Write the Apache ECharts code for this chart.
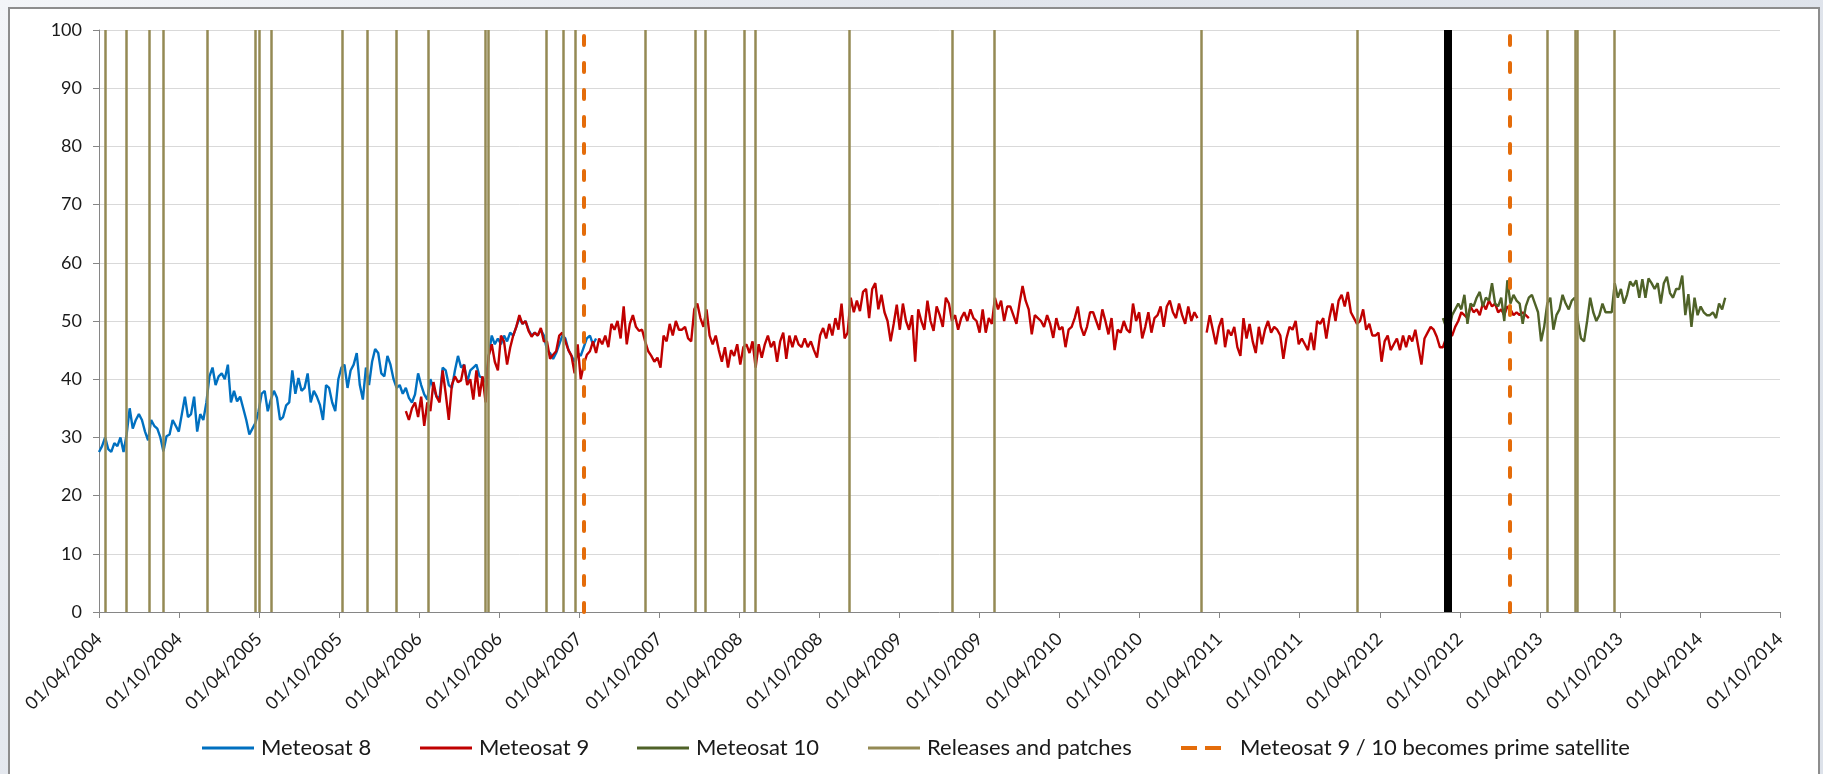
<!DOCTYPE html>
<html>
<head>
<meta charset="utf-8">
<title>Meteosat 8 / 9 / 10</title>
<script src="https://cdn.jsdelivr.net/npm/echarts@6.0.0/dist/echarts.min.js"></script>
<style>
  html, body { margin: 0; padding: 0; width: 1823px; height: 774px; overflow: hidden; }
  body { background: linear-gradient(135deg, #f3f5f8 0%, #e2e6ed 35%, #dde2ea 100%); }
  #frame { position: absolute; left: 8px; top: 7px; width: 1808px; height: 820px; background: #fff; border: 2px solid #8d8d8d; }
  #chart { position: absolute; left: 0; top: 0; width: 1823px; height: 774px; }
</style>
</head>
<body>
<div id="frame"></div>
<div id="chart"></div>
<script>
// axis ticks, every 6 months
const tickDates = ['2004-04-01', '2004-10-01', '2005-04-01', '2005-10-01', '2006-04-01', '2006-10-01',
  '2007-04-01', '2007-10-01', '2008-04-01', '2008-10-01', '2009-04-01', '2009-10-01', '2010-04-01',
  '2010-10-01', '2011-04-01', '2011-10-01', '2012-04-01', '2012-10-01', '2013-04-01', '2013-10-01',
  '2014-04-01', '2014-10-01']

// releases and patches (vertical lines)
const releaseDates = ['2004-04-16', '2004-06-03', '2004-07-24', '2004-08-26', '2004-12-03', '2005-03-23',
  '2005-04-01', '2005-04-30', '2005-10-07', '2005-12-03', '2006-02-08', '2006-04-22', '2006-08-30',
  '2006-09-05', '2007-01-17', '2007-02-25', '2007-03-24', '2007-08-30', '2007-12-23', '2008-01-13',
  '2008-04-11', '2008-05-08', '2008-12-07', '2009-07-31', '2009-11-03', '2011-02-18', '2012-02-09',
  '2013-04-17', '2013-06-20', '2013-06-26', '2013-09-17']
const primeDates = ['2007-04-13', '2013-01-22']
const blackBarDate = '2012-09-04'

// weekly samples
const stepDays = 7
const m8Start = '2004-04-01'
const m8Values = [
  27.5, 28.5, 30, 28, 27.5, 29, 28.5, 30, 27.5, 30.5,
  35, 31.5, 33, 34, 33, 31, 29.5, 33, 32, 31.5,
  30, 27.6, 30.2, 30.5, 33, 32, 31, 34, 37, 33.5,
  34, 37, 31, 34, 33, 36, 40.5, 42, 39, 40.5,
  41, 40, 42.5, 36, 38, 36.2, 37, 35, 33, 30.5,
  31.5, 32.5, 34.5, 37.5, 38, 34.5, 36.5, 38, 36.8, 33,
  33.5, 35.5, 36, 41.5, 37.5, 40.2, 38, 38.5, 41, 36,
  38, 37, 35.6, 33, 39, 38.5, 36, 34.5, 40, 42,
  42.5, 38.5, 41.5, 42.5, 44.5, 39, 36.5, 42, 39, 43,
  45.2, 44.5, 41, 40.5, 44, 42.5, 40, 38.5, 39, 37.5,
  38.5, 36.8, 36, 37.4, 41, 39, 37.4, 36.5, 40, 38.5,
  37, 36.8, 42, 41.5, 39, 38.5, 41.5, 44, 42, 42.5,
  39.5, 41.5, 42, 42.5, 40.5, 40.2, 39.5, 44, 47.5, 46,
  47, 46, 47.5, 46.5, 48, 47.5, 49, 50.5, 49.5, 50,
  48.5, 47.5, 48, 47.5, 48.5, 47.5, 45, 44.5, 43.5, 44.5,
  46, 47.5, 47, 45, 44, 43, 44.5, 44, 45.5, 47,
  47.5, 46, 47
]
const m9Start = '2006-03-02'
const m9Values = [
  34.5, 33, 35, 36, 33.5, 37, 32, 36, 34.5, 39.5,
  37, 36, 41.5, 37.5, 33, 39, 40.5, 39.5, 39.8, 42.5,
  39, 40, 36.5, 41.5, 37, 40.5, 36, 44, 46, 43,
  41.5, 47.5, 46.5, 42.5, 45.4, 47.5, 49, 51, 49.5, 50,
  48.3, 47.3, 48, 47.5, 48.8, 46.5, 46.5, 43.5, 44.2, 44.8,
  47.5, 48, 46.5, 45, 44, 41, 46, 40, 42.5, 44.2,
  44.8, 46.5, 44.5, 47, 46, 47.5, 45.5, 49.5, 48.5, 50,
  47, 52.5, 46, 49.5, 51, 49, 48.3, 48.5, 46.5, 44.8,
  44, 43, 43.7, 42, 47.5, 46.5, 49.5, 47.5, 50, 48.5,
  48.5, 49, 47, 46.5, 52, 53, 50.5, 49, 52, 47.5,
  46, 47.5, 45, 43, 45.5, 42, 45, 44, 46, 42.5,
  45.5, 46, 44.5, 46.5, 42, 46, 43.7, 46, 47.5, 45.5,
  46.5, 43, 46.5, 48, 43.5, 47.5, 45.5, 47.5, 46, 45.5,
  47, 45.5, 46.5, 45, 43.7, 47.5, 48.8, 47, 49.5, 47.5,
  50.5, 48.5, 53, 47, 48, 54, 51.5, 53.5, 51.7, 55,
  55.5, 50.5, 55.5, 56.5, 52, 54.5, 51.5, 50, 46.5, 49.5,
  52.8, 48.5, 53, 50, 48.5, 51, 43, 52, 50, 48.5,
  53.5, 50, 48.3, 52.5, 51, 49, 54, 53, 50, 51,
  48.5, 50.5, 51.5, 50, 52, 50.5, 50, 48, 52, 48,
  50.5, 49.5, 54, 52, 53.5, 50, 52.5, 52.5, 51, 49.5,
  53, 56, 53.5, 52, 47.7, 51, 50.5, 50, 49, 51,
  49.5, 47.1, 50.5, 48.5, 49, 45.5, 48.5, 49, 50.5, 52.5,
  49, 47.5, 49, 51.5, 51.5, 50, 48.5, 52, 50, 47.7,
  50.5, 45, 48.5, 48, 50, 48.5, 48, 53, 50, 51.5,
  47, 49, 51.5, 48, 50.5, 51, 52.5, 49, 52.5, 53.5,
  51.5, 50.5, 53, 51, 49.5, 52.5, 50, 51.5, 50.5, null,
  null, 48, 51, 48.5, 46, 49, 50.5, 45.5, 48.5, 47.5,
  49, 45.5, 44, 50.5, 47, 49.5, 46.5, 44.5, 49, 46,
  48.5, 50, 48, 49, 48.5, 47.5, 43.5, 47, 49, 48.5,
  50, 46, 47, 46, 45, 48, 45, 50, 49.5, 50.5,
  47, 50.5, 53, 50, 53.5, 54.5, 52.5, 55, 51.5, 50.5,
  49.5, 50, 52, 48.5, 49.5, 47.5, 47.5, 48, 43, 46.5,
  47.5, 45, 46, 47, 45, 47.5, 45.5, 47.5, 46.5, 48.5,
  45.5, 42.5, 47, 48, 49, 48.5, 47.3, 45.5, 45.5, 47,
  47.5, 47.5, 49, 50, 51.5, 51, 50.5, 52.5, 51.5, 52,
  51, 53, 52, 53.5, 52.5, 53, 51.5, 52, 51, 52.5,
  52, 51, 51.5, 51, 51.5, 51, 50.5
]
const m10Start = '2012-08-23'
const m10Values = [
  50.5, 49,
  48.3, 51, 52, 53, 52, 54.5, 49.5, 53, 52.5, 54,
  55, 52.5, 54, 53.5, 56.5, 53, 52.5, 54, 50, 57,
  53, 54.5, 53.5, 53, 49.5, 52.5, 54, 54.5, 53, 51.5,
  46.5, 49, 53, 54, 48.5, 51, 52, 54.5, 53, 52,
  53.5, 54, 50, 47, 46.5, 50, 54, 51.5, 50, 51,
  53, 51.5, 51.5, 51.5, 56.5, 54, 55.5, 53, 54.5, 56.8,
  56, 57, 54, 57.2, 54, 57.3, 56.5, 55.5, 56.5, 53,
  56.5, 57.6, 54.8, 54, 55.5, 55.5, 57.8, 51, 54.6, 49,
  54, 51, 52.5, 51.5, 51, 51, 51.5, 50.5, 53, 52,
  54
]

const font = 'Lato'
const textColor = '#1a1a1a'
const axisColor = '#868686'
// legend icons: a plain stroke, and two dashes
const solidIcon = 'path://M0,0H52V3H0Z'
const dashIcon = 'path://M0,0H16V4H0ZM24,0H40V4H24Z'

function toTime (s) {
  const p = s.split('-').map(Number)
  return new Date(p[0], p[1] - 1, p[2]).getTime()
}
function weekly (start, values) {
  const p = start.split('-').map(Number)
  return values.map((v, i) => [new Date(p[0], p[1] - 1, p[2] + i * stepDays).getTime(), v])
}
function pad (n) { return n < 10 ? '0' + n : '' + n }
function fmtDate (v) {
  const d = new Date(Math.round(v))
  return pad(d.getDate()) + '/' + pad(d.getMonth() + 1) + '/' + d.getFullYear()
}
// one legend box per entry so each sits where it is in the picture
function legendAt (left, name, icon, width, textPad) {
  return {
    left: left,
    top: 737,
    padding: 0,
    itemWidth: width,
    itemHeight: 14,
    symbolKeepAspect: true,
    icon: icon,
    textStyle: { fontFamily: font, fontSize: 22, color: textColor, padding: [0, 0, 0, textPad] },
    data: [name]
  }
}

const ticks = tickDates.map(toTime)

const chart = echarts.init(document.getElementById('chart'))
const option = {
  animation: false,
  backgroundColor: 'transparent',
  grid: { left: 99, right: 43, top: 30, bottom: 162, outerBoundsMode: 'none' },
  legend: [
    legendAt(202, 'Meteosat 8', solidIcon, 52, 2),
    legendAt(420, 'Meteosat 9', solidIcon, 52, 2),
    legendAt(637, 'Meteosat 10', solidIcon, 52, 2),
    legendAt(868, 'Releases and patches', solidIcon, 52, 2),
    legendAt(1181, 'Meteosat 9 / 10 becomes prime satellite', dashIcon, 40, 14)
  ],
  xAxis: {
    type: 'value',
    min: ticks[0],
    max: ticks[ticks.length - 1],
    axisLine: { lineStyle: { color: axisColor, width: 1 } },
    axisTick: { show: true, length: 6, lineStyle: { color: axisColor }, customValues: ticks },
    axisLabel: {
      customValues: ticks,
      rotate: 45,
      margin: 24,
      formatter: fmtDate,
      fontFamily: font,
      fontSize: 18,
      color: textColor,
      hideOverlap: false
    },
    splitLine: { show: false }
  },
  yAxis: {
    type: 'value',
    min: 0,
    max: 100,
    interval: 10,
    axisLine: { show: true, lineStyle: { color: axisColor, width: 1 } },
    axisTick: { show: true, length: 6, lineStyle: { color: axisColor } },
    axisLabel: { margin: 17, fontFamily: font, fontSize: 18, color: textColor },
    splitLine: { lineStyle: { color: '#d9d9d9', width: 1 } }
  },
  series: [
    {
      name: 'Meteosat 8',
      type: 'line',
      symbol: 'none',
      data: weekly(m8Start, m8Values),
      lineStyle: { color: '#0070C0', width: 2.4 },
      itemStyle: { color: '#0070C0' }
    },
    {
      name: 'Meteosat 9',
      type: 'line',
      symbol: 'none',
      connectNulls: false,
      data: weekly(m9Start, m9Values),
      lineStyle: { color: '#C00000', width: 2.4 },
      itemStyle: { color: '#C00000' }
    },
    {
      name: 'Meteosat 10',
      type: 'line',
      symbol: 'none',
      data: weekly(m10Start, m10Values),
      lineStyle: { color: '#4F6228', width: 2.4 },
      itemStyle: { color: '#4F6228' }
    },
    {
      name: 'Releases and patches',
      type: 'line',
      symbol: 'none',
      data: [],
      lineStyle: { color: '#948A54', width: 2.5 },
      itemStyle: { color: '#948A54' },
      markLine: {
        silent: true,
        symbol: 'none',
        label: { show: false },
        lineStyle: { color: '#948A54', width: 2.5, type: 'solid' },
        data: releaseDates.map(d => ({ xAxis: toTime(d) })).concat([
          { xAxis: toTime(blackBarDate), lineStyle: { color: '#000', width: 8, type: 'solid' } }
        ])
      }
    },
    {
      name: 'Meteosat 9 / 10 becomes prime satellite',
      type: 'line',
      symbol: 'none',
      data: [],
      lineStyle: { color: '#E46C0A', width: 4, type: [9, 18], cap: 'round' },
      itemStyle: { color: '#E46C0A' },
      markLine: {
        silent: true,
        symbol: 'none',
        label: { show: false },
        lineStyle: { color: '#E46C0A', width: 4, type: [9, 18], cap: 'round' },
        data: primeDates.map(d => ({ xAxis: toTime(d) }))
      }
    }
  ]
}
chart.setOption(option)
</script>
</body>
</html>
